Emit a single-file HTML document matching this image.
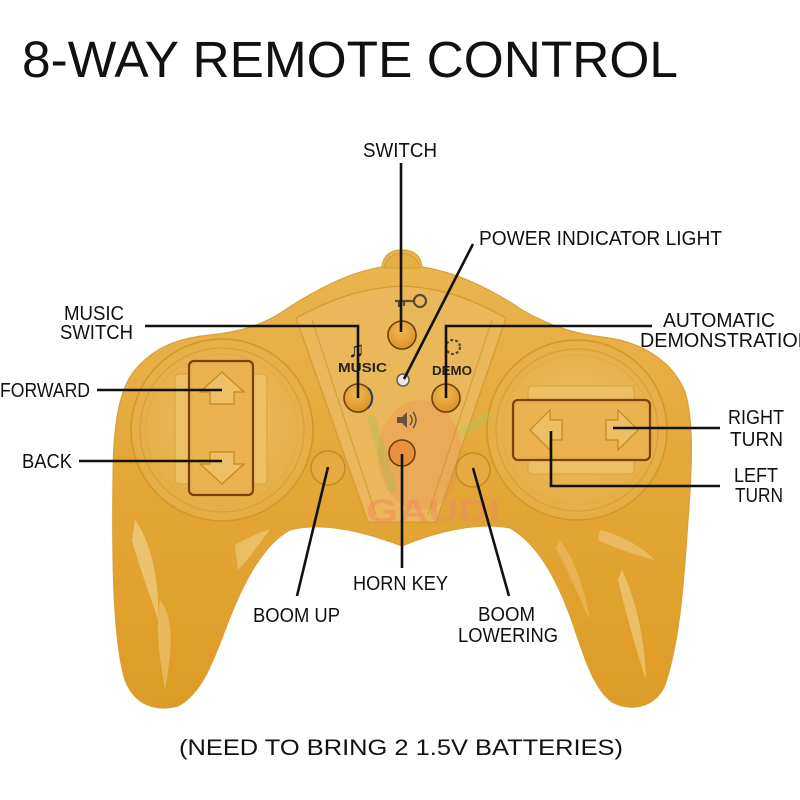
<!DOCTYPE html>
<html>
<head>
<meta charset="utf-8">
<style>
  html,body{margin:0;padding:0;background:#fff;}
  svg{display:block;}
  text{font-family:"Liberation Sans",sans-serif;fill:#111;}
</style>
</head>
<body>
<svg width="800" height="800" viewBox="0 0 800 800" xmlns="http://www.w3.org/2000/svg">
  <defs>
    <linearGradient id="bodyG" x1="0" y1="0" x2="0" y2="1">
      <stop offset="0" stop-color="#EAB650"/>
      <stop offset="0.45" stop-color="#E4A83A"/>
      <stop offset="1" stop-color="#DD9C24"/>
    </linearGradient>
    <radialGradient id="padG" cx="0.5" cy="0.45" r="0.6">
      <stop offset="0" stop-color="#EDBF62"/>
      <stop offset="1" stop-color="#E4AA40"/>
    </radialGradient>
    <radialGradient id="btnG" cx="0.45" cy="0.35" r="0.7">
      <stop offset="0" stop-color="#F2BA55"/>
      <stop offset="1" stop-color="#D98F22"/>
    </radialGradient>
  </defs>

  <rect width="800" height="800" fill="#fff"/>

  <!-- Title -->
  <text x="22" y="77" font-size="51" textLength="656" lengthAdjust="spacingAndGlyphs">8-WAY REMOTE CONTROL</text>

  <!-- Controller body -->
  <path d="M 402 250
    C 414 250, 421 256, 422 267
    C 455 272, 490 288, 522 310
    C 550 326, 575 334, 602 337
    C 640 341, 672 360, 685 392
    C 694 420, 692 470, 688 520
    C 684 580, 680 640, 665 685
    C 655 708, 630 712, 612 702
    C 595 690, 585 660, 575 630
    C 560 585, 540 545, 510 528
    C 480 522, 440 530, 402 546
    C 360 530, 320 522, 290 530
    C 262 545, 242 585, 225 630
    C 212 665, 200 695, 178 706
    C 155 712, 135 705, 125 680
    C 113 640, 112 560, 113 480
    C 113 430, 118 390, 135 370
    C 155 346, 180 338, 210 335
    C 240 332, 262 325, 282 312
    C 315 290, 350 272, 382 267
    C 383 256, 390 250, 402 250 Z"
    fill="url(#bodyG)" stroke="#D9A03A" stroke-width="1.2"/>

  <!-- nub -->
  <path d="M 384 268 C 386 258, 393 254, 402 253 C 411 254, 418 258, 420 268 Z" fill="#E7AE46" stroke="#D39A30" stroke-width="1"/>

  <!-- grip highlights -->
  <path d="M 135 520 C 150 540, 160 580, 158 620 C 152 600, 140 570, 132 540 Z" fill="#F6DDA0" opacity="0.55"/>
  <path d="M 160 600 C 175 620, 172 650, 165 690 C 160 660, 155 630, 160 600 Z" fill="#F6DDA0" opacity="0.4"/>
  <path d="M 235 545 C 245 540, 262 530, 270 530 C 258 545, 248 560, 238 570 Z" fill="#F6DDA0" opacity="0.45"/>
  <path d="M 622 570 C 636 600, 645 640, 646 680 C 636 650, 625 610, 618 580 Z" fill="#F6DDA0" opacity="0.5"/>
  <path d="M 600 530 C 620 535, 640 545, 655 560 C 635 555, 615 548, 598 540 Z" fill="#F6DDA0" opacity="0.4"/>
  <path d="M 560 540 C 575 560, 585 590, 590 620 C 580 600, 568 570, 556 548 Z" fill="#F6DDA0" opacity="0.3"/>

  <!-- center V panel -->
  <path d="M 296 318 C 330 300, 360 288, 402 286 C 444 288, 474 300, 506 318 L 436 522 L 368 522 Z" fill="#EAB85A" stroke="#D39B30" stroke-width="1.2"/>
  <path d="M 312 320 L 376 515" stroke="#C98F24" stroke-width="1" opacity="0.7"/>
  <path d="M 492 320 L 428 515" stroke="#C98F24" stroke-width="1" opacity="0.7"/>

  <!-- left pad -->
  <circle cx="222" cy="430" r="91" fill="url(#padG)" stroke="#D19726" stroke-width="1.5"/>
  <circle cx="222" cy="430" r="82" fill="none" stroke="#D6A035" stroke-width="1.2"/>
  <circle cx="222" cy="430" r="76" fill="none" stroke="#E0AC45" stroke-width="1"/>
  <rect x="175" y="374" width="92" height="110" rx="4" fill="#ECBF62" stroke="#D9A23A" stroke-width="1"/>
  <rect x="189" y="361" width="64" height="134" rx="5" fill="#E8B04A" stroke="#7A4208" stroke-width="2.2"/>
  <rect x="193" y="364" width="57" height="126" rx="4" fill="#EAB350"/>
  <polygon points="222,372 244,392 234,392 234,404 210,404 210,392 200,392" fill="#EDBE63" stroke="#C48A1E" stroke-width="1.2"/>
  <polygon points="222,484 244,464 234,464 234,452 210,452 210,464 200,464" fill="#EDBE63" stroke="#C48A1E" stroke-width="1.2"/>

  <!-- right pad -->
  <circle cx="577" cy="430" r="90" fill="url(#padG)" stroke="#D19726" stroke-width="1.5"/>
  <circle cx="577" cy="430" r="81" fill="none" stroke="#D6A035" stroke-width="1.2"/>
  <circle cx="577" cy="430" r="75" fill="none" stroke="#E0AC45" stroke-width="1"/>
  <rect x="528" y="386" width="106" height="88" rx="4" fill="#ECBF62" stroke="#D9A23A" stroke-width="1"/>
  <rect x="513" y="400" width="137" height="60" rx="5" fill="#E8B04A" stroke="#7A4208" stroke-width="2.2"/>
  <rect x="516" y="403" width="131" height="53" rx="4" fill="#EAB350"/>
  <polygon points="530,430 550,410 550,420 562,420 562,440 550,440 550,450" fill="#EDBE63" stroke="#C48A1E" stroke-width="1.2"/>
  <polygon points="638,430 618,410 618,420 606,420 606,440 618,440 618,450" fill="#EDBE63" stroke="#C48A1E" stroke-width="1.2"/>

  <!-- watermark -->
  <ellipse cx="420" cy="455" rx="42" ry="55" fill="#EE7C50" opacity="0.22"/>
  <path d="M 372 420 L 392 488" stroke="#9BBF4A" stroke-width="9" opacity="0.3" stroke-linecap="round"/>
  <path d="M 462 432 L 488 416" stroke="#A8CC58" stroke-width="8" opacity="0.35" stroke-linecap="round"/>
  <text x="366" y="522" font-size="32" font-weight="bold" textLength="134" lengthAdjust="spacingAndGlyphs" style="fill:#F08A5E;opacity:0.5">GAUDI</text>

  <!-- icons -->
  <g stroke="#5A4A3A" stroke-width="2.2" fill="none">
    <circle cx="420" cy="301" r="6"/>
    <path d="M 414 301 L 395 301 M 399 301 L 399 307 M 404 301 L 404 306"/>
    <circle cx="453" cy="347" r="7" stroke-dasharray="3 2"/>
  </g>
  <text x="348" y="357" font-size="22" style="fill:#2a2418">♫</text>
  <text x="338" y="372" font-size="13" font-weight="bold" textLength="49" lengthAdjust="spacingAndGlyphs" style="fill:#2a2418">MUSIC</text>
  <text x="432" y="375" font-size="13" font-weight="bold" textLength="40" lengthAdjust="spacingAndGlyphs" style="fill:#2a2418">DEMO</text>
  <path d="M 397 417 L 402 417 L 407 412 L 407 428 L 402 423 L 397 423 Z" fill="#6A5040"/>
  <path d="M 410 415 Q 414 420 410 425 M 413 412 Q 419 420 413 428" stroke="#6A5040" stroke-width="1.5" fill="none"/>

  <!-- buttons -->
  <circle cx="402" cy="335" r="14" fill="url(#btnG)" stroke="#6B3E0C" stroke-width="1.6"/>
  <circle cx="358" cy="398" r="14" fill="url(#btnG)" stroke="#6B3E0C" stroke-width="1.6"/>
  <path d="M 368 388 A 14 14 0 0 1 368 408" stroke="#2F3A6A" stroke-width="2" fill="none"/>
  <circle cx="446" cy="398" r="14" fill="url(#btnG)" stroke="#6B3E0C" stroke-width="1.6"/>
  <circle cx="403" cy="380" r="6" fill="#E8E8E8" stroke="#6A5A4A" stroke-width="1.5"/>
  <circle cx="402" cy="453" r="13" fill="#E9903E" stroke="#6B3E0C" stroke-width="1.6"/>
  <circle cx="328" cy="468" r="17" fill="#E6AA42" stroke="#C88A22" stroke-width="1.5"/>
  <circle cx="473" cy="470" r="17" fill="#E6AA42" stroke="#C88A22" stroke-width="1.5"/>

  <!-- connector lines -->
  <g stroke="#111" stroke-width="2.6" fill="none" stroke-linecap="butt">
    <path d="M 401 163 L 401 332"/>
    <path d="M 473 244 L 404 379"/>
    <path d="M 145 326 L 358 326 L 358 398"/>
    <path d="M 652 326 L 446 326 L 446 398"/>
    <path d="M 97 390 L 222 390"/>
    <path d="M 79 461 L 222 461"/>
    <path d="M 720 428 L 613 428"/>
    <path d="M 551 431 L 551 486 L 720 486"/>
    <path d="M 297 596 L 328 467"/>
    <path d="M 402 568 L 402 454"/>
    <path d="M 509 596 L 473 468"/>
  </g>

  <!-- labels -->
  <g font-size="20">
    <text x="363" y="157" textLength="74" lengthAdjust="spacingAndGlyphs">SWITCH</text>
    <text x="479" y="245" textLength="243" lengthAdjust="spacingAndGlyphs">POWER INDICATOR LIGHT</text>
    <text x="64" y="320" textLength="60" lengthAdjust="spacingAndGlyphs">MUSIC</text>
    <text x="60" y="339" textLength="73" lengthAdjust="spacingAndGlyphs">SWITCH</text>
    <text x="663" y="327" textLength="112" lengthAdjust="spacingAndGlyphs">AUTOMATIC</text>
    <text x="640" y="347" textLength="172" lengthAdjust="spacingAndGlyphs">DEMONSTRATION</text>
    <text x="0" y="397" textLength="90" lengthAdjust="spacingAndGlyphs">FORWARD</text>
    <text x="22" y="468" textLength="50" lengthAdjust="spacingAndGlyphs">BACK</text>
    <text x="728" y="424" textLength="56" lengthAdjust="spacingAndGlyphs">RIGHT</text>
    <text x="730" y="446" textLength="53" lengthAdjust="spacingAndGlyphs">TURN</text>
    <text x="734" y="482" textLength="44" lengthAdjust="spacingAndGlyphs">LEFT</text>
    <text x="735" y="502" textLength="48" lengthAdjust="spacingAndGlyphs">TURN</text>
    <text x="253" y="622" textLength="87" lengthAdjust="spacingAndGlyphs">BOOM UP</text>
    <text x="353" y="590" textLength="95" lengthAdjust="spacingAndGlyphs">HORN KEY</text>
    <text x="478" y="621" textLength="57" lengthAdjust="spacingAndGlyphs">BOOM</text>
    <text x="458" y="642" textLength="100" lengthAdjust="spacingAndGlyphs">LOWERING</text>
  </g>

  <!-- footer -->
  <text x="179" y="755" font-size="22" textLength="444" lengthAdjust="spacingAndGlyphs">(NEED TO BRING 2 1.5V BATTERIES)</text>
</svg>
</body>
</html>
